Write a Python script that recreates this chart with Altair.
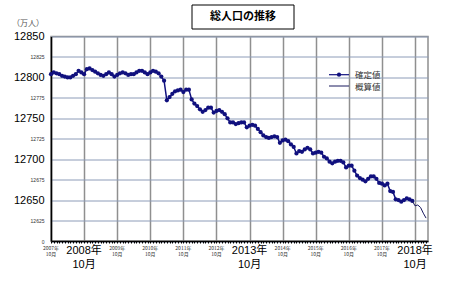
import altair as alt
import pandas as pd

# ---- data (万人), monthly from 2007年10月 ----
start_year = 2007
confirmed = [
    12804, 12806, 12805, 12804, 12802, 12801, 12800, 12800, 12802, 12804, 12808, 12806,
    12804, 12810, 12811, 12809, 12807, 12805, 12803, 12802, 12804, 12806, 12804, 12801,
    12803, 12805, 12806, 12805, 12803, 12804, 12804, 12806, 12808, 12808, 12806, 12804,
    12806, 12808, 12807, 12805, 12801, 12796, 12772, 12776, 12780, 12783, 12784, 12785,
    12782, 12785, 12785, 12773, 12768, 12765, 12761, 12758, 12760, 12763, 12763, 12757,
    12759, 12760, 12758, 12755, 12750, 12745, 12745, 12743, 12744, 12745, 12745, 12739,
    12741, 12742, 12741, 12737, 12733, 12729, 12727, 12726, 12727, 12728, 12727, 12720,
    12723, 12724, 12722, 12718, 12715, 12707, 12710, 12709, 12712, 12714, 12712, 12707,
    12708, 12709, 12708, 12703, 12701, 12697, 12695, 12697, 12698, 12698, 12696, 12690,
    12692, 12692, 12686, 12680, 12677, 12675, 12673, 12676, 12679, 12679, 12676, 12671,
    12670, 12668, 12670, 12661, 12660, 12651, 12650, 12648, 12650, 12652, 12651, 12649,
]
estimate_start = 131
estimate = [12649, 12643, 12644, 12641, 12634, 12628]
years = list(range(2007, 2019))
big_years = [2008, 2013, 2018]
y_ticks = list(range(12600, 12851, 25))

df_c = pd.DataFrame({"m": list(range(len(confirmed))), "v": confirmed})
df_e = pd.DataFrame({"m": list(range(estimate_start, estimate_start + len(estimate))), "v": estimate})
df_y = pd.DataFrame({
    "m": [(y - start_year) * 12 for y in years],
    "year": [f"{y}年" for y in years],
    "month": ["10月"] * len(years),
    "big": [y in big_years for y in years],
})
df_small = df_y[~df_y["big"]]
df_big = df_y[df_y["big"]]
one = pd.DataFrame({"k": [0]})

FONT = "Liberation Sans, Noto Sans CJK JP"
JFONT = "Noto Sans CJK JP"
NAVY = "#10107e"

xs = alt.Scale(domain=[0, 136.7], nice=False, zero=False)
ys = alt.Scale(domain=[12600, 12850], nice=False, zero=False)

x_axis = alt.Axis(
    values=list(range(0, 137)), labels=False, title=None, grid=True,
    gridOpacity={"condition": {"test": "datum.value % 12 == 0", "value": 1}, "value": 0},
    gridColor="#8f8f8f", gridWidth=1.5, ticks=True, tickSize=2, tickColor="#000",
    domainColor="#000", domainWidth=1.5,
)
y_axis = alt.Axis(
    values=y_ticks, title=None, grid=True, gridColor="#8d9cb8", gridWidth=1,
    ticks=False, domainColor="#000", domainWidth=1.5, labelPadding=7,
    labelFont=FONT, format="d",
    labelFontSize={"condition": {"test": "datum.value % 50 == 0 && datum.value > 12600", "value": 11}, "value": 5},
    labelColor={"condition": {"test": "datum.value % 50 == 0 && datum.value > 12600", "value": "#000"}, "value": "#333"},
    labelExpr="datum.value == 12600 ? '0' : datum.label",
)

X = alt.X("m:Q", scale=xs, axis=x_axis)
Y = alt.Y("v:Q", scale=ys, axis=y_axis)

line_c = alt.Chart(df_c).mark_line(color=NAVY, strokeWidth=1.5).encode(x=X, y=Y)
pts_c = alt.Chart(df_c).mark_point(color=NAVY, filled=True, size=18, opacity=1).encode(x=X, y=Y)
line_e = alt.Chart(df_e).mark_line(color="#1a1a5e", strokeWidth=1).encode(x=X, y=Y)

small_y1 = alt.Chart(df_small).mark_text(font=JFONT, fontSize=5, color="#333", baseline="middle").encode(
    x=alt.X("m:Q", scale=xs, axis=x_axis), y=alt.value(211.8), text="year:N")
small_y2 = alt.Chart(df_small).mark_text(font=JFONT, fontSize=5, color="#333", baseline="middle").encode(
    x=alt.X("m:Q", scale=xs, axis=x_axis), y=alt.value(217.8), text="month:N")
big_y1 = alt.Chart(df_big).mark_text(font=FONT, fontSize=11, color="#000", baseline="middle").encode(
    x=alt.X("m:Q", scale=xs, axis=x_axis), y=alt.value(214.2), text="year:N")
big_y2 = alt.Chart(df_big).mark_text(font=FONT, fontSize=11, color="#000", baseline="middle").encode(
    x=alt.X("m:Q", scale=xs, axis=x_axis), y=alt.value(228), text="month:N")

# title box
tbox = alt.Chart(one).mark_rect(fill="white", stroke="#000", strokeWidth=1).encode(
    x=alt.value(141), x2=alt.value(243), y=alt.value(-31.5), y2=alt.value(-7.5))
ttext = alt.Chart(one).mark_text(font=JFONT, fontSize=11, fontWeight="bold", color="#000",
                                 baseline="middle", align="center").encode(
    x=alt.value(192), y=alt.value(-19.5), text=alt.value("総人口の推移"))
unit = alt.Chart(one).mark_text(font=JFONT, fontSize=8, color="#555", baseline="middle", align="left").encode(
    x=alt.value(-39), y=alt.value(-12.5), text=alt.value("（万人）"))

# legend
leg_r1 = alt.Chart(one).mark_rule(color=NAVY, strokeWidth=1.2).encode(
    x=alt.value(278), x2=alt.value(298), y=alt.value(38.2))
leg_p1 = alt.Chart(one).mark_point(color=NAVY, filled=True, size=18, opacity=1).encode(
    x=alt.value(288), y=alt.value(38.2))
leg_r2 = alt.Chart(one).mark_rule(color="#1a1a5e", strokeWidth=1).encode(
    x=alt.value(278), x2=alt.value(298), y=alt.value(49.5))
leg_t1 = alt.Chart(one).mark_text(font=JFONT, fontSize=8.5, color="#333", align="left", baseline="middle").encode(
    x=alt.value(304), y=alt.value(38), text=alt.value("確定値"))
leg_t2 = alt.Chart(one).mark_text(font=JFONT, fontSize=8.5, color="#333", align="left", baseline="middle").encode(
    x=alt.value(304), y=alt.value(50.2), text=alt.value("概算値"))

chart = alt.layer(
    line_c, pts_c, line_e,
    small_y1, small_y2, big_y1, big_y2,
    tbox, ttext, unit,
    leg_r1, leg_p1, leg_r2, leg_t1, leg_t2,
).properties(
    width=377, height=204.5,
    autosize=alt.AutoSizeParams(type="none"),
    padding={"left": 51, "top": 36.5, "right": 42, "bottom": 55},
    background="white",
).configure_view(stroke="#8f8f8f", strokeWidth=1.5)

chart.save("out.html", embed_options={"renderer": "svg", "actions": False})
